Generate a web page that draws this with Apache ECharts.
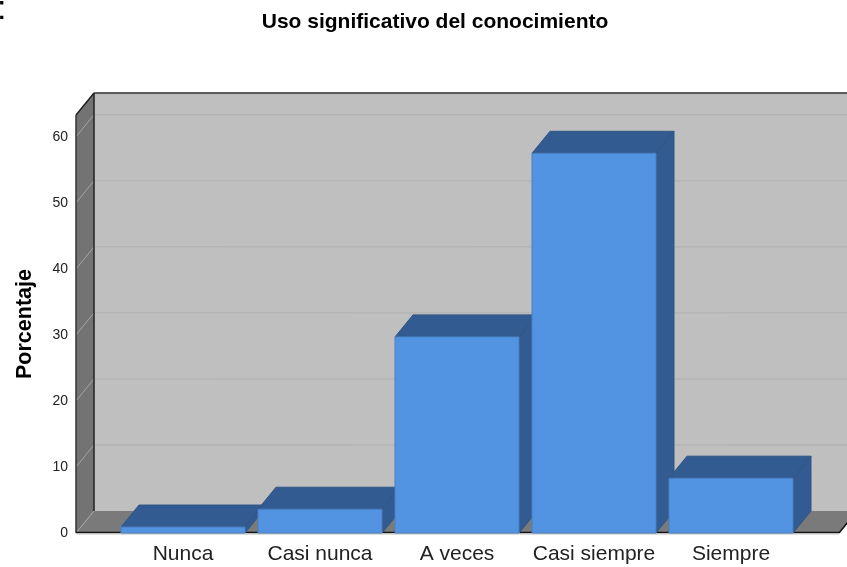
<!DOCTYPE html>
<html>
<head>
<meta charset="utf-8">
<style>
  html, body { margin: 0; padding: 0; background: #fff; }
  #chart { width: 847px; height: 567px; }
</style>
<script src="https://cdn.jsdelivr.net/npm/echarts@6/dist/echarts.min.js"></script>
</head>
<body>
<div id="chart"></div>
<script>
var categories = ['Nunca', 'Casi nunca', 'A veces', 'Casi siempre', 'Siempre']
var values = [0.9, 3.6, 29.7, 57.5, 8.3]
var yTicks = [0, 10, 20, 30, 40, 50, 60]
var yMax = 63.3

var font = '"Liberation Sans", Arial, sans-serif'
var depthX = 18 // profundidad del efecto 3D
var depthY = 22
var wallLeft = 76
var floorRight = 839

var chart = echarts.init(document.getElementById('chart'))

function poly(points, fill, stroke, z2) {
  return {
    type: 'polygon',
    z2: z2 || 0,
    shape: { points: points },
    style: { fill: fill, stroke: stroke || null, lineWidth: stroke ? 1 : 0 }
  }
}

function line(x1, y1, x2, y2, color, width, z2) {
  return {
    type: 'line',
    z2: z2 || 0,
    shape: { x1: x1, y1: y1, x2: x2, y2: y2 },
    style: { stroke: color, lineWidth: width || 1 }
  }
}

// paredes y suelo
function renderScene(params, api) {
  var y0 = api.coord([0, 0])[1]
  var yTop = api.coord([0, yMax])[1]
  var backX = wallLeft + depthX
  var right = 847 + 20
  var kids = [
    poly([[backX, yTop - depthY], [right, yTop - depthY], [right, y0 - depthY], [backX, y0 - depthY]], '#bfbfbf'),
    poly([[wallLeft, yTop], [backX, yTop - depthY], [backX, y0 - depthY], [wallLeft, y0]], '#737373'),
    poly([[wallLeft, y0], [backX, y0 - depthY], [right, y0 - depthY], [floorRight + depthX, y0 - depthY], [floorRight, y0]], '#7a7a7a')
  ]
  yTicks.forEach(function(t) {
    var y = api.coord([0, t])[1]
    kids.push(line(wallLeft, y, backX, y - depthY, '#a6a6a6', 1, 1))
    if (t > 0) kids.push(line(backX, y - depthY, right, y - depthY, '#b0b0b0', 1, 1))
  })
  var yTopLine = yTop - depthY
  kids.push(line(backX, yTopLine, right, yTopLine, '#333333', 1.5, 2))
  kids.push(line(backX, yTopLine, backX, y0 - depthY, '#222222', 1.5, 2))
  kids.push(line(wallLeft, yTop, backX, yTopLine, '#222222', 1.5, 2))
  kids.push(line(wallLeft, yTop, wallLeft, y0, '#333333', 1.5, 2))
  kids.push(line(wallLeft, y0 - 0.5, floorRight, y0 - 0.5, '#111111', 1.5, 2))
  kids.push(line(floorRight, y0, floorRight + depthX, y0 - depthY, '#111111', 1.5, 2))
  kids.push(line(wallLeft, y0 + 1, floorRight, y0 + 1, '#bdbdbd', 1, 2))
  return { type: 'group', children: kids }
}

function renderBar(params, api) {
  var top = api.coord([api.value(0), api.value(1)])
  var base = api.coord([api.value(0), 0])
  var w = api.size([1, 0])[0] * 0.905
  var l = top[0] - w / 2
  var r = top[0] + w / 2
  var dark = '#325c91'
  return {
    type: 'group',
    children: [
      poly([[r, top[1]], [r + depthX, top[1] - depthY], [r + depthX, base[1] - depthY], [r, base[1]]], dark, '#2f5585'),
      poly([[l, top[1]], [l + depthX, top[1] - depthY], [r + depthX, top[1] - depthY], [r, top[1]]], dark, '#2f5585'),
      poly([[l, top[1]], [r, top[1]], [r, base[1]], [l, base[1]]], '#5294e2', '#4a7fc0')
    ]
  }
}

var option = {
  animation: false,
  backgroundColor: '#fff',
  title: {
    text: 'Uso significativo del conocimiento',
    left: 430,
    top: 7,
    textAlign: 'center',
    textStyle: { fontFamily: font, fontSize: 21, fontWeight: 'bold', color: '#000' }
  },
  grid: { left: 114.5, top: 115, width: 685, height: 418 },
  xAxis: {
    type: 'category',
    data: categories,
    axisLine: { show: false },
    axisTick: { show: false },
    axisLabel: { fontFamily: font, fontSize: 21, color: '#222', margin: 11, interval: 0 }
  },
  yAxis: {
    type: 'value',
    min: 0,
    max: yMax,
    interval: 10,
    offset: 38.5,
    name: 'Porcentaje',
    nameLocation: 'middle',
    nameGap: 40,
    nameRotate: 90,
    nameTextStyle: { fontFamily: font, fontSize: 21.5, fontWeight: 'bold', color: '#000' },
    axisLine: { show: false },
    axisTick: { show: false },
    splitLine: { show: false },
    axisLabel: {
      fontFamily: font,
      fontSize: 14,
      color: '#222',
      margin: 8,
      formatter: function(v) {
        return yTicks.indexOf(v) >= 0 ? String(v) : ''
      }
    }
  },
  graphic: [{
    type: 'text',
    left: -3,
    top: -7,
    style: { text: ':', fontFamily: font, fontSize: 34, fill: '#000' }
  }],
  series: [
    {
      type: 'custom',
      clip: false,
      z: 1,
      silent: true,
      renderItem: renderScene,
      encode: { x: 0, y: 1 },
      data: [[0, 0]]
    },
    {
      type: 'custom',
      clip: false,
      z: 2,
      renderItem: renderBar,
      encode: { x: 0, y: 1 },
      data: values.map(function(v, i) { return [i, v] })
    }
  ]
}
chart.setOption(option)
window.addEventListener('resize', function() {
  chart.resize()
})
</script>
</body>
</html>
